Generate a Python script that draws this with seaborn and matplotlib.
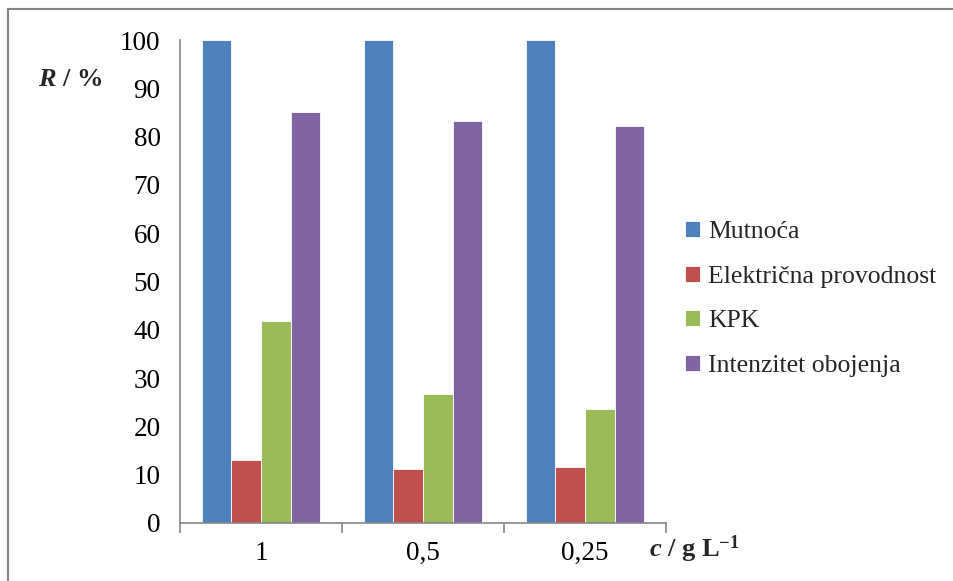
import matplotlib
matplotlib.use("Agg")
import matplotlib.pyplot as plt
import seaborn as sns
import pandas as pd
from matplotlib.patches import Rectangle

categories = ["1", "0,5", "0,25"]
series = ["Mutnoća", "Električna provodnost", "KPK", "Intenzitet obojenja"]
mutnoca = [100, 100, 100]
elektricna = [13.0, 11.2, 11.6]
kpk = [41.8, 26.8, 23.7]
intenzitet = [85.1, 83.2, 82.2]
colors = ["#4F81BD", "#C0504D", "#9BBB59", "#8064A2"]
yticks = [0, 10, 20, 30, 40, 50, 60, 70, 80, 90, 100]

rows = []
for name, vals in zip(series, [mutnoca, elektricna, kpk, intenzitet]):
    for c, v in zip(categories, vals):
        rows.append({"c": c, "serija": name, "R": v})
df = pd.DataFrame(rows)

sns.set_theme(style="white")
plt.rcParams["font.family"] = ["Liberation Serif", "DejaVu Serif"]
plt.rcParams["mathtext.fontset"] = "custom"
plt.rcParams["mathtext.rm"] = "Liberation Serif:bold"
plt.rcParams["mathtext.it"] = "Liberation Serif:italic:bold"
plt.rcParams["mathtext.bf"] = "Liberation Serif:bold"

W, H = 954, 581
fig = plt.figure(figsize=(W / 100, H / 100), dpi=100)
ax = fig.add_axes([180 / W, 1 - 523 / H, (666 - 180) / W, (523 - 40) / H])

sns.barplot(data=df, x="c", y="R", hue="serija", hue_order=series, order=categories,
            palette=colors, width=0.73, saturation=1, ax=ax, legend=True,
            edgecolor="white", linewidth=0.6)

gray = "#868686"
ax.set_xlim(-0.5, 2.5)
ax.set_ylim(0, 100)
ax.set_yticks(yticks)
ax.set_yticklabels([str(t) for t in yticks], fontsize=19.5, color="black")
ax.tick_params(axis="y", length=6, width=1.2, color=gray, pad=8, direction="out")
ax.set_xticks([-0.5, 0.5, 1.5, 2.5])
ax.set_xticklabels([])
ax.tick_params(axis="x", which="major", length=7, width=1.2, color=gray, direction="out", bottom=True)
ax.set_xticks([0, 1, 2], minor=True)
ax.set_xticklabels(categories, minor=True, fontsize=19.5, color="black")
ax.tick_params(axis="x", which="minor", length=0, pad=13)
for s in ["top", "right"]:
    ax.spines[s].set_visible(False)
for s in ["left", "bottom"]:
    ax.spines[s].set_color(gray)
    ax.spines[s].set_linewidth(1.2)
ax.set_xlabel("")
ax.set_ylabel("")
ax.grid(False)

handles, labels = ax.get_legend_handles_labels()
ax.get_legend().remove()
fig.legend(handles, labels, loc="center left", bbox_to_anchor=(675 / W, 1 - 299 / H),
           frameon=False, fontsize=18.5, handlelength=0.58, handleheight=0.58,
           handletextpad=0.3, labelspacing=0.87, borderaxespad=0)

fig.text(38 / W, 1 - 80 / H, r"$R$ / %", fontsize=19, fontweight="bold", ha="left", va="center")
fig.text(649 / W, 1 - 549 / H, r"$c$ / g L$^{-1}$", fontsize=19, fontweight="bold", ha="left", va="center")

fig.patches.append(Rectangle((8 / W, -0.1), 1.2, (1 - 9 / H) + 0.1, transform=fig.transFigure,
                             fill=False, edgecolor=gray, linewidth=1.5))

fig.savefig("out.png", dpi=100)
